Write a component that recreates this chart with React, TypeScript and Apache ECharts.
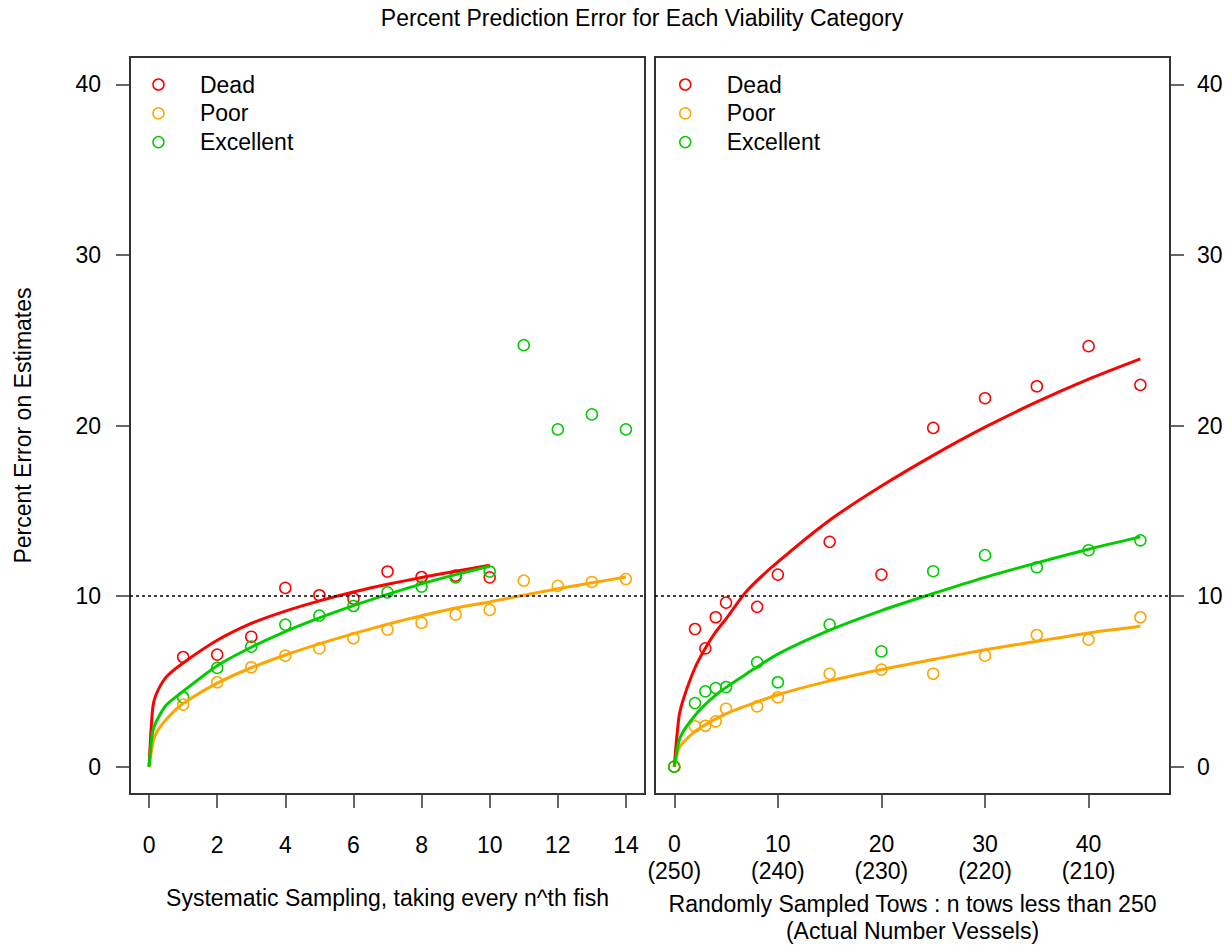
import React, { useEffect, useRef } from "react";
import * as echarts from "echarts";

// ---------- data ----------
const TITLE = "Percent Prediction Error for Each Viability Category";
const Y_NAME = "Percent Error on Estimates";
const LEFT_X_NAME = "Systematic Sampling, taking every n^th fish";
const RIGHT_X_NAME = "Randomly Sampled Tows : n tows less than 250\n(Actual Number Vessels)";
const CATEGORIES = ["Dead", "Poor", "Excellent"];
const COLORS = ["#FF0000", "#FFA500", "#00CC00"];
const REF_LINE = 10;

const Y_TICKS = [0, 10, 20, 30, 40];
const LEFT_X_TICKS = [0, 2, 4, 6, 8, 10, 12, 14];
const RIGHT_X_TICKS = [0, 10, 20, 30, 40];
const RIGHT_X_SUBLABELS = ["(250)", "(240)", "(230)", "(220)", "(210)"];

// left panel observed points
const leftXShort = [1, 2, 3, 4, 5, 6, 7, 8, 9, 10];
const leftXLong = [1, 2, 3, 4, 5, 6, 7, 8, 9, 10, 11, 12, 13, 14];
const leftDead = [6.43, 6.57, 7.62, 10.48, 10.05, 9.85, 11.44, 11.12, 11.2, 11.1];
const leftPoor = [3.64, 4.95, 5.83, 6.51, 6.94, 7.53, 8.04, 8.43, 8.92, 9.19, 10.91, 10.6, 10.83, 11.0];
const leftExcellent = [4.07, 5.79, 7.04, 8.33, 8.86, 9.42, 10.22, 10.56, 11.1, 11.44, 24.71, 19.77, 20.65, 19.77];

// left panel fitted curves
const leftFitX = [0, 0.1, 0.2, 0.5, 1, 2, 3, 4, 5, 6, 7, 8, 9, 10];
const leftFitDead = [0, 3.3, 4.2, 5.25, 6.08, 7.41, 8.4, 9.12, 9.72, 10.24, 10.69, 11.09, 11.46, 11.81];
const leftFitExcellent = [0, 2.0, 2.6, 3.6, 4.42, 5.92, 7.0, 7.92, 8.72, 9.44, 10.1, 10.72, 11.26, 11.75];
const leftFitPoorX = [0, 0.14, 0.28, 0.56, 1, 2, 3, 4, 5, 6, 7, 8, 9, 10, 11, 12, 13, 14];
const leftFitPoor = [0, 1.63, 2.2, 2.9, 3.7, 4.9, 5.8, 6.55, 7.2, 7.8, 8.35, 8.85, 9.3, 9.66, 10.05, 10.43, 10.78, 11.12];

// right panel observed points
const rightX = [0, 2, 3, 4, 5, 8, 10, 15, 20, 25, 30, 35, 40, 45];
const rightDead = [0, 8.07, 6.94, 8.76, 9.62, 9.37, 11.26, 13.18, 11.26, 19.86, 21.6, 22.3, 24.65, 22.38];
const rightPoor = [0, 2.37, 2.4, 2.66, 3.4, 3.54, 4.07, 5.45, 5.69, 5.45, 6.51, 7.72, 7.45, 8.76];
const rightExcellent = [0, 3.73, 4.42, 4.61, 4.67, 6.12, 4.95, 8.33, 6.76, 11.46, 12.4, 11.69, 12.69, 13.27];

// right panel fitted curves
const rightFitX = [0, 0.45, 0.9, 2, 3, 4, 5, 7, 10, 15, 20, 25, 30, 35, 40, 45];
const rightFitDead = [0, 2.9, 4.0, 5.8, 6.94, 7.9, 8.67, 10.3, 12.0, 14.45, 16.45, 18.25, 19.9, 21.38, 22.72, 23.91];
const rightFitPoor = [0, 1.07, 1.45, 2.07, 2.46, 2.8, 3.11, 3.58, 4.22, 5.03, 5.7, 6.28, 6.85, 7.35, 7.84, 8.23];
const rightFitExcellent = [0, 1.5, 2.1, 3.0, 3.65, 4.2, 4.65, 5.45, 6.6, 8.0, 9.15, 10.15, 11.1, 11.95, 12.75, 13.47];

// ---------- chart ----------
const FONT = '"Liberation Sans", Arial, sans-serif';
const FS = 23;
const AXIS_COLOR = "#333";

const pairs = (xs: number[], ys: number[]) => xs.map((x, i) => [x, ys[i]]);

function scatter(name: string, color: string, xs: number[], ys: number[], axis: number) {
  return {
    type: "scatter",
    name,
    xAxisIndex: axis,
    yAxisIndex: axis,
    symbol: "circle",
    symbolSize: 11,
    itemStyle: { color: "rgba(0,0,0,0)", borderColor: color, borderWidth: 1.5, opacity: 1 },
    data: pairs(xs, ys),
    z: 3,
  };
}

function fit(name: string, color: string, xs: number[], ys: number[], axis: number) {
  return {
    type: "line",
    name: name + " fit",
    xAxisIndex: axis,
    yAxisIndex: axis,
    showSymbol: false,
    symbol: "none",
    smooth: 0.25,
    lineStyle: { color, width: 3 },
    data: pairs(xs, ys),
    z: 4,
  };
}

function refLine(axis: number) {
  return {
    type: "line",
    name: "ref" + axis,
    xAxisIndex: axis,
    yAxisIndex: axis,
    data: [],
    symbol: "none",
    markLine: {
      silent: true,
      symbol: "none",
      label: { show: false },
      lineStyle: { type: [3, 3], color: "#000", width: 1.5 },
      data: [{ yAxis: REF_LINE }],
    },
  };
}

function legend(left: number) {
  return {
    orient: "vertical",
    left,
    top: 73,
    padding: 0,
    itemGap: 5.8,
    itemWidth: 11,
    itemHeight: 11,
    selectedMode: false,
    data: CATEGORIES,
    itemStyle: { borderWidth: 1.5 },
    textStyle: {
      fontFamily: FONT,
      fontSize: FS,
      color: "#000",
      lineHeight: 23,
      padding: [0, 0, 0, 31],
    },
  };
}

const tickStyle = {
  show: true,
  inside: false,
  length: 14,
  lineStyle: { color: AXIS_COLOR, width: 1.5 },
};

const hiddenLine = { show: false, onZero: false };

const gridBase = {
  top: 57,
  width: 515,
  height: 737,
  show: true,
  borderColor: AXIS_COLOR,
  borderWidth: 2,
  backgroundColor: "transparent",
  containLabel: false,
  outerBoundsMode: "none",
};

export default function App() {
  const ref = useRef<HTMLDivElement>(null);

  useEffect(() => {
    if (!ref.current) return;
    const chart = echarts.init(ref.current, undefined, { renderer: "svg" });

    const leftPts = [leftDead, leftPoor, leftExcellent];
    const leftPtsX = [leftXShort, leftXLong, leftXLong];
    const leftFits = [leftFitDead, leftFitPoor, leftFitExcellent];
    const leftFitXs = [leftFitX, leftFitPoorX, leftFitX];
    const rightPts = [rightDead, rightPoor, rightExcellent];
    const rightFits = [rightFitDead, rightFitPoor, rightFitExcellent];

    const series: any[] = [];
    CATEGORIES.forEach((c, i) => series.push(scatter(c, COLORS[i], leftPtsX[i], leftPts[i], 0)));
    CATEGORIES.forEach((c, i) => series.push(scatter(c, COLORS[i], rightX, rightPts[i], 1)));
    CATEGORIES.forEach((c, i) => series.push(fit(c, COLORS[i], leftFitXs[i], leftFits[i], 0)));
    CATEGORIES.forEach((c, i) => series.push(fit(c, COLORS[i], rightFitX, rightFits[i], 1)));
    series.push(refLine(0));
    series.push(refLine(1));

    const option: any = {
      animation: false,
      backgroundColor: "#fff",
      textStyle: { fontFamily: FONT },
      title: {
        text: TITLE,
        left: 642,
        top: 6.5,
        padding: 0,
        textAlign: "center",
        textStyle: { fontFamily: FONT, fontSize: FS, fontWeight: "normal", color: "#000" },
      },
      legend: [legend(152.2), legend(679)],
      grid: [
        { ...gridBase, left: 130 },
        { ...gridBase, left: 655 },
      ],
      xAxis: [
        {
          type: "value",
          gridIndex: 0,
          position: "bottom",
          min: -0.56,
          max: 14.56,
          splitLine: { show: false },
          axisLine: hiddenLine,
          axisTick: { ...tickStyle, customValues: LEFT_X_TICKS },
          axisLabel: {
            customValues: LEFT_X_TICKS,
            margin: 37,
            fontFamily: FONT,
            fontSize: FS,
            color: "#000",
            lineHeight: 27,
          },
          name: LEFT_X_NAME,
          nameLocation: "middle",
          nameGap: 90,
          nameTextStyle: { fontFamily: FONT, fontSize: FS, color: "#000", lineHeight: 27 },
        },
        {
          type: "value",
          gridIndex: 1,
          position: "bottom",
          min: -1.86,
          max: 47.86,
          splitLine: { show: false },
          axisLine: hiddenLine,
          axisTick: { ...tickStyle, customValues: RIGHT_X_TICKS },
          axisLabel: {
            customValues: RIGHT_X_TICKS,
            margin: 36,
            fontFamily: FONT,
            fontSize: FS,
            color: "#000",
            lineHeight: 27,
            formatter: (v: number) => {
              const idx = RIGHT_X_TICKS.indexOf(v);
              return idx >= 0 ? String(v) + "\n" + RIGHT_X_SUBLABELS[idx] : "";
            },
          },
          name: RIGHT_X_NAME,
          nameLocation: "middle",
          nameGap: 96,
          nameTextStyle: { fontFamily: FONT, fontSize: FS, color: "#000", lineHeight: 27 },
        },
      ],
      yAxis: [
        {
          type: "value",
          gridIndex: 0,
          position: "left",
          min: -1.6,
          max: 41.6,
          splitLine: { show: false },
          axisLine: hiddenLine,
          axisTick: { ...tickStyle, customValues: Y_TICKS },
          axisLabel: { customValues: Y_TICKS, margin: 29, fontFamily: FONT, fontSize: FS, color: "#000" },
          name: Y_NAME,
          nameLocation: "middle",
          nameGap: 96,
          nameTextStyle: { fontFamily: FONT, fontSize: FS, color: "#000" },
        },
        {
          type: "value",
          gridIndex: 1,
          position: "right",
          min: -1.6,
          max: 41.6,
          splitLine: { show: false },
          axisLine: hiddenLine,
          axisTick: { ...tickStyle, customValues: Y_TICKS },
          axisLabel: { customValues: Y_TICKS, margin: 27, fontFamily: FONT, fontSize: FS, color: "#000" },
        },
      ],
      series,
    };

    chart.setOption(option);
    return () => chart.dispose();
  }, []);

  return (
    <div
      ref={ref}
      style={{ position: "absolute", left: 0, top: 0, width: 1232, height: 945 }}
    />
  );
}
